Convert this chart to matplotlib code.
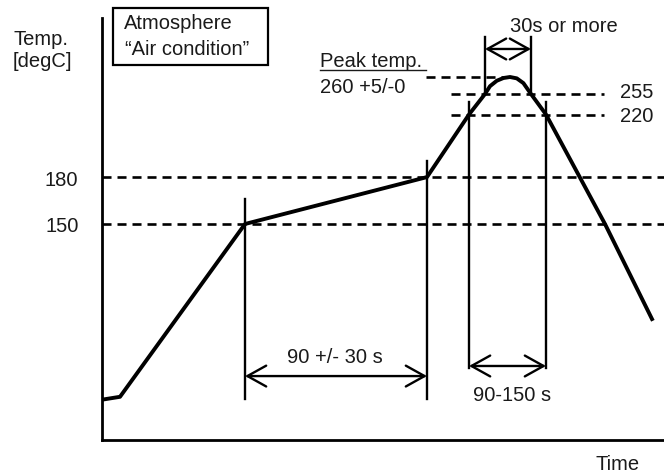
import numpy as np
import matplotlib
matplotlib.use("Agg")
import matplotlib.pyplot as plt
from matplotlib.lines import Line2D
from matplotlib.patches import Rectangle

plt.rcParams['font.family'] = ['Liberation Sans', 'DejaVu Sans']
plt.rcParams['lines.scale_dashes'] = False

# ---- schematic data (time in arbitrary seconds, temperature in degC) ----
profile_time = [0, 9, 71.5, 162.5, 183.5, 191.5, 194, 197.4, 200.7, 204, 207.4, 210.7, 214.5, 222, 251.5, 275]
profile_temp = [28, 30, 150, 180, 220, 255, 257.3, 258.9, 259.7, 260, 259.6, 258.2, 255, 220, 150, 84]

full_levels = [150, 180]                 # dashed lines across the chart
tick_labels = ["150", "180"]
zone_levels = [255, 220]                 # dashed lines around the peak
zone_start = 174.5
zone_end = 251
peak_level = 260
peak_line = (162, 202)

marker_time = [71.5, 162.5, 183.5, 222, 191.5, 214.5]
marker_low = [28.5, 28.5, 50, 50, 255, 255]
marker_high = [166, 190, 241, 241, 273.5, 273.5]

spans = [  # (t_start, t_end, temp level)
    (71.5, 162.5, 44.4),
    (183.5, 222, 51.4),
    (191.5, 214.5, 269.5),
]

# piecewise (schematic) temperature axis
temp_knots = np.array([0, 150, 220, 255, 260, 280], dtype=float)
pos_knots = np.array([0, 216, 325.5, 346, 363, 422], dtype=float)

def fwd(t):
    return np.interp(t, temp_knots, pos_knots)

def inv(p):
    return np.interp(p, pos_knots, temp_knots)

W, H = 664, 477
FS = 14.5
fig = plt.figure(figsize=(W / 100, H / 100), dpi=100)
ax = fig.add_axes([102 / W, 36 / H, 1 - 102 / W, 1 - 36 / H - 19 / H])
ax.set_yscale('function', functions=(fwd, inv))
ax.set_xlim(0, 281)
ax.set_ylim(0, 280)

for s in ['top', 'right']:
    ax.spines[s].set_visible(False)
for s in ['left', 'bottom']:
    ax.spines[s].set_linewidth(2.0)
    ax.spines[s].set_color('black')

ax.set_xticks([])
ax.set_yticks(full_levels)
ax.set_yticklabels(tick_labels)
ax.yaxis.set_minor_locator(matplotlib.ticker.NullLocator())
ax.tick_params(axis='y', length=0, pad=17, labelsize=FS, labelcolor='#1a1a1a')

dash = (0, (6.5, 4.3))
for lv in full_levels:
    ax.axhline(lv, color='black', lw=1.9, linestyle=dash, zorder=1)
for lv in zone_levels:
    ax.plot([zone_start, zone_end], [lv, lv], color='black', lw=1.9, linestyle=dash, zorder=1)
ax.plot(list(peak_line), [peak_level, peak_level], color='black', lw=1.9, linestyle=dash, zorder=1)

ax.plot(profile_time, profile_temp, color='black', lw=2.8, solid_joinstyle='round', zorder=3)

for t, lo, hi in zip(marker_time, marker_low, marker_high):
    ax.plot([t, t], [lo, hi], color='black', lw=1.7, zorder=2)

for t0, t1, lv in spans:
    ax.annotate('', xy=(t1, lv), xytext=(t0, lv),
                arrowprops=dict(arrowstyle='<->,head_length=1.35,head_width=0.75',
                                lw=1.7, color='black', shrinkA=0, shrinkB=0))

def txt(x, y, s, **kw):
    fig.text(x / W, 1 - y / H, s, fontsize=FS, color='#1a1a1a', va='baseline', **kw)

txt(13, 45, "Temp.")
txt(13, 67, "[degC]")
txt(124, 29, "Atmosphere")
txt(125, 55, "\u201cAir condition\u201d")
fig.patches.append(Rectangle((113 / W, 1 - 66 / H), 155 / W, 57 / H, transform=fig.transFigure,
                             fill=False, edgecolor='black', lw=1.6))
txt(320, 67, "Peak temp.")
fig.add_artist(Line2D([320 / W, 426 / W], [1 - 71 / H, 1 - 71 / H], transform=fig.transFigure,
                      color='#1a1a1a', lw=1.0))
txt(320, 93, "260 +5/-0")
txt(510, 32, "30s or more")
txt(620, 98, "255")
txt(620, 122, "220")
txt(287, 363, "90 +/- 30 s")
txt(473, 401, "90-150 s")
txt(596, 470, "Time")

fig.savefig("out.png", dpi=100)
